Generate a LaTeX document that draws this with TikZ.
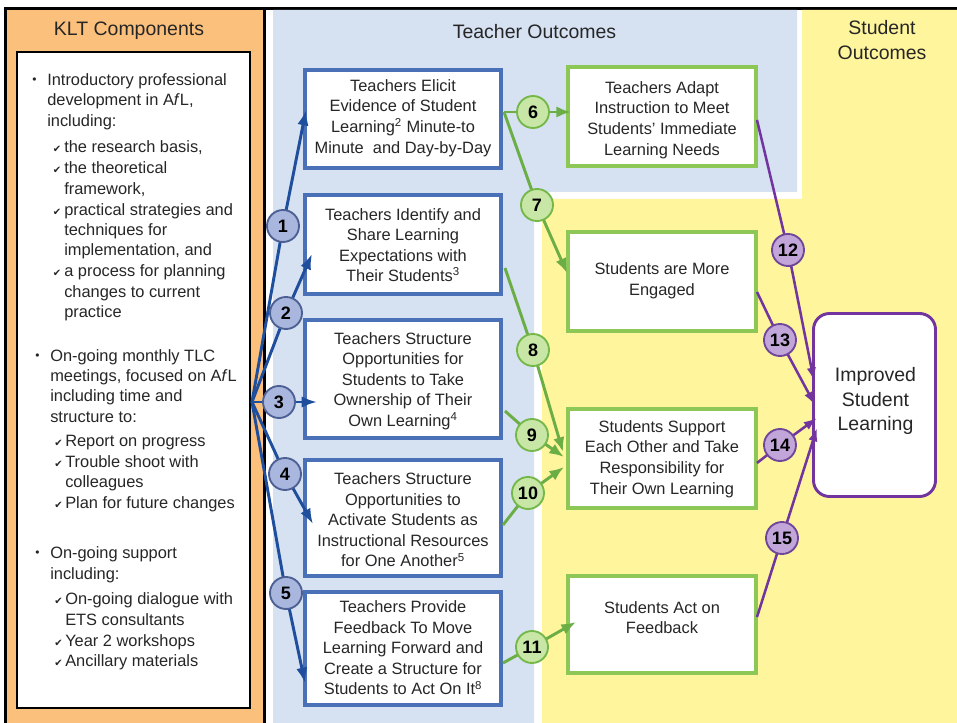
\documentclass[tikz,border=0pt]{standalone}
\usepackage{fontspec}
\setmainfont{Liberation Sans}
\newfontfamily\dejavu{DejaVu Sans}
\usetikzlibrary{arrows.meta,fit}
\definecolor{orangep}{HTML}{FBC07C}
\definecolor{bluep}{HTML}{D6E1F2}
\definecolor{yellowp}{HTML}{FFF59D}
\definecolor{bbox}{HTML}{4A70B8}
\definecolor{barr}{HTML}{1F4E9C}
\definecolor{bcircf}{HTML}{A9B6DE}
\definecolor{bcircd}{HTML}{4D6094}
\definecolor{gbox}{HTML}{8DC857}
\definecolor{garr}{HTML}{6AAE45}
\definecolor{gcircf}{HTML}{C8E6A6}
\definecolor{gcircd}{HTML}{74B84A}
\definecolor{parr}{HTML}{7235A0}
\definecolor{pcircf}{HTML}{C3A6D9}
\definecolor{pcircd}{HTML}{70469A}
\definecolor{txtc}{HTML}{262626}
\tikzset{
  bluebox/.style={draw=bbox, line width=2.6pt, fill=white, inner sep=0pt},
  greenbox/.style={draw=gbox, line width=2.8pt, fill=white, inner sep=0pt},
  purplebox/.style={draw=parr, line width=2.2pt, fill=white, rounded corners=12pt, inner sep=0pt},
  boxtext/.style={font=\fontsize{12.3}{15.4}\selectfont, align=center, text=txtc, inner sep=0pt},
  bigtext/.style={font=\fontsize{14.6}{18.4}\selectfont, align=center, text=txtc, inner sep=0pt},
  leftline/.style={font=\fontsize{12.3}{15.4}\selectfont, text=txtc, inner sep=0pt, anchor=west, text height=9pt, text depth=2.6pt},
  chk/.style={font=\dejavu\fontsize{7.5}{7.5}\selectfont, text=txtc, inner sep=0pt, anchor=west},
  bul/.style={font=\fontsize{9}{9}\selectfont, text=txtc, inner sep=0pt, anchor=west},
  circ/.style={circle, minimum size=24pt, inner sep=0pt, line width=1.4pt, font=\fontsize{13.5}{13.5}\selectfont\bfseries, text=black},
  bcirc/.style={circ, draw=bcircd, fill=bcircf},
  gcirc/.style={circ, draw=gcircd, fill=gcircf},
  pcirc/.style={circ, draw=pcircd, fill=pcircf},
  barrow/.style={draw=barr, line width=2.2pt, line join=round, -{Latex[length=11.5pt,width=8.5pt]}},
  garrow/.style={draw=garr, line width=2.2pt, line join=round, -{Latex[length=11pt,width=8.5pt]}},
  parrow/.style={draw=parr, line width=1.9pt, line join=round, -{Latex[length=10pt,width=7pt]}}
}
\begin{document}
\begin{tikzpicture}[x=0.75pt,y=-0.75pt]
\useasboundingbox (0,0) rectangle (957,723);
% backgrounds
\fill[white] (0,0) rectangle (957,723);
\fill[black] (4,7) rectangle (957,10);
\fill[black] (4,7) rectangle (7,723);
\fill[orangep] (7,10) rectangle (263,723);
\fill[black] (263,10) rectangle (265.5,723);
\fill[bluep] (273,10) -- (797,10) -- (797,192) -- (534,192) -- (534,723) -- (273,723) -- cycle;
\fill[yellowp] (802,10) -- (957,10) -- (957,723) -- (542,723) -- (542,199) -- (802,199) -- cycle;
\draw[black, line width=1.5pt, fill=white] (17,52) rectangle (250,708);

% titles
\node[bigtext] (tklt) at (129,31) {KLT Components};
\node[bigtext] (tteach) at (534.5,32) {Teacher Outcomes};
\node[bigtext] (tstud) at (882,40) {Student\\Outcomes};

% left panel text
\foreach \yy/\xx/\txt [count=\i] in {
  81/47/{Introductory professional},
  101.5/47/{development in A\textit{f}L,},
  122/47/{including:},
  148/64/{the research basis,},
  169/64/{the theoretical},
  190/64/{framework,},
  211/64/{practical strategies and},
  231/64/{techniques for},
  251.5/64/{implementation, and},
  272/64/{a process for planning},
  293/64/{changes to current},
  313/64/{practice},
  357/50/{On-going monthly TLC},
  377.5/50/{meetings, focused on A\textit{f}L},
  397.5/50/{including time and},
  418/50/{structure to:},
  442/65/{Report on progress},
  463/65/{Trouble shoot with},
  483/65/{colleagues},
  504/65/{Plan for future changes},
  554/50/{On-going support},
  575/50/{including:},
  600/65/{On-going dialogue with},
  621/65/{ETS consultants},
  642/65/{Year 2 workshops},
  662/65/{Ancillary materials}}
  {\node[leftline] (L\i) at (\xx,\yy) {\txt};}
\foreach \yy/\xx [count=\i] in {149/52.5,170/52.5,212/52.5,273/52.5,443/54,464/54,505/54,601/54,643/54,663/54}
  {\node[chk] (K\i) at (\xx,\yy) {✔};}
\foreach \yy/\xx [count=\i] in {81/32,357/35,554/35}
  {\node[bul] (B\i) at (\xx,\yy) {\textbullet};}

% teacher boxes
\node[bluebox, fit={(305,70) (501,168)}] (b1) {};
\node[bluebox, fit={(305,195) (501,294)}] (b2) {};
\node[bluebox, fit={(305,320) (501,438)}] (b3) {};
\node[bluebox, fit={(305,460) (501,576)}] (b4) {};
\node[bluebox, fit={(305,592) (501,705)}] (b5) {};
\node[boxtext] (b1t) at (403,118) {Teachers Elicit\\Evidence of Student\\Learning\textsuperscript{2} Minute-to\\Minute~ and Day-by-Day};
\node[boxtext] (b2t) at (403,245) {Teachers Identify and\\Share Learning\\Expectations with\\Their Students\textsuperscript{3}};
\node[boxtext] (b3t) at (403,381) {Teachers Structure\\Opportunities for\\Students to Take\\Ownership of Their\\Own Learning\textsuperscript{4}};
\node[boxtext] (b4t) at (403,520) {Teachers Structure\\Opportunities to\\Activate Students as\\Instructional Resources\\for One Another\textsuperscript{5}};
\node[boxtext] (b5t) at (403,648) {Teachers Provide\\Feedback To Move\\Learning Forward and\\Create a Structure for\\Students to Act On It\textsuperscript{8}};

% green boxes
\node[greenbox, fit={(568,67) (756,166)}] (g1) {};
\node[greenbox, fit={(568,232) (756,331)}] (g2) {};
\node[greenbox, fit={(568,409) (756,508)}] (g3) {};
\node[greenbox, fit={(568,576) (756,673)}] (g4) {};
\node[boxtext] (g1t) at (662,120) {Teachers Adapt\\Instruction to Meet\\Students’ Immediate\\Learning Needs};
\node[boxtext] (g2t) at (662,280.5) {Students are More\\Engaged};
\node[boxtext] (g3t) at (662,459) {Students Support\\Each Other and Take\\Responsibility for\\Their Own Learning};
\node[boxtext] (g4t) at (662,617.5) {Students Act on\\Feedback};

% outcome box
\node[purplebox, fit={(813.5,313.5) (935.5,496.5)}] (isl) {};
\node[bigtext] (islt) at (875.5,401) {Improved\\Student\\Learning};

% coordinates
\coordinate (o) at (252,402);
\coordinate (c1) at (283,226); \coordinate (t1) at (306,110);
\coordinate (c2) at (286,313); \coordinate (t2) at (312,254);
\coordinate (c3) at (279,402); \coordinate (t3) at (317,402);
\coordinate (c4) at (285,474); \coordinate (t4) at (313,524);
\coordinate (c5) at (286,593); \coordinate (t5) at (305,683);
\coordinate (s6) at (504,112);
\coordinate (c6) at (533,112); \coordinate (t6) at (571,112);
\coordinate (c7) at (537,205); \coordinate (t7) at (567,273);
\coordinate (s8) at (505,268); \coordinate (c8) at (533,350); \coordinate (t8) at (563,452);
\coordinate (s9) at (505,411); \coordinate (c9) at (532,435); \coordinate (t9) at (564,457);
\coordinate (s10) at (503,525); \coordinate (c10) at (528,493); \coordinate (t10) at (564,467);
\coordinate (s11) at (503,663); \coordinate (c11) at (532,647); \coordinate (t11) at (576,622);
\coordinate (s12) at (757,120); \coordinate (c12) at (788,250); \coordinate (t12) at (814,381);
\coordinate (s13) at (757,292); \coordinate (c13) at (780,340); \coordinate (t13) at (815,405);
\coordinate (s14) at (757,463); \coordinate (c14) at (780,445); \coordinate (t14) at (817,418);
\coordinate (s15) at (757,617); \coordinate (c15) at (782,538); \coordinate (t15) at (817,428);

% connectors
\draw[barrow] (o) -- (c1) -- (t1);
\draw[barrow] (o) -- (c2) -- (t2);
\draw[barrow] (o) -- (c3) -- (t3);
\draw[barrow] (o) -- (c4) -- (t4);
\draw[barrow] (o) -- (c5) -- (t5);
\draw[garrow] (s6) -- (c6) -- (t6);
\draw[garrow] (s6) -- (c7) -- (t7);
\draw[garrow] (s8) -- (c8) -- (t8);
\draw[garrow] (s9) -- (c9) -- (t9);
\draw[garrow] (s10) -- (c10) -- (t10);
\draw[garrow] (s11) -- (c11) -- (t11);
\draw[parrow] (s12) -- (c12) -- (t12);
\draw[parrow] (s13) -- (c13) -- (t13);
\draw[parrow] (s14) -- (c14) -- (t14);
\draw[parrow] (s15) -- (c15) -- (t15);

% badges
\foreach \i in {1,...,5} {\node[bcirc] (n\i) at (c\i) {\i};}
\foreach \i in {6,...,11} {\node[gcirc] (n\i) at (c\i) {\i};}
\foreach \i in {12,...,15} {\node[pcirc] (n\i) at (c\i) {\i};}
\end{tikzpicture}
\end{document}
